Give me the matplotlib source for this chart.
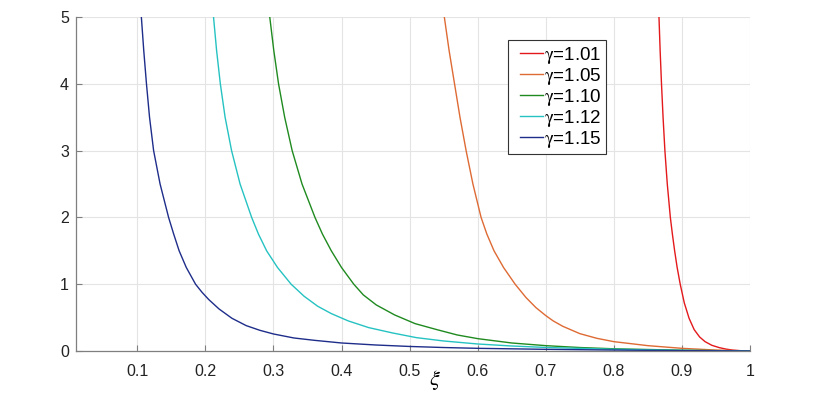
import matplotlib
matplotlib.use('Agg')
import matplotlib.pyplot as plt
from matplotlib.legend_handler import HandlerLine2D
from matplotlib.lines import Line2D

plt.rcParams['font.family'] = ['Liberation Sans', 'DejaVu Sans']
plt.rcParams['mathtext.fontset'] = 'stix'

# values (xi, f)
xi_101 = [0.8663, 0.868, 0.870, 0.8723, 0.875, 0.8785, 0.883, 0.886, 0.8893, 0.893, 0.8975,
          0.9035, 0.9105, 0.918, 0.926, 0.934, 0.944, 0.955, 0.965, 0.975, 0.987, 1.0]
f_101 = [5.0, 4.5, 4.0, 3.5, 3.0, 2.5, 2.0, 1.75, 1.5, 1.25, 1.0,
         0.72, 0.49, 0.32, 0.21, 0.14, 0.085, 0.05, 0.028, 0.013, 0.004, 0.0]

xi_105 = [0.551, 0.558, 0.566, 0.574, 0.583, 0.593, 0.605, 0.6135, 0.624, 0.638, 0.655,
          0.671, 0.6855, 0.70, 0.711, 0.725, 0.75, 0.775, 0.80, 0.85, 0.90, 0.95, 1.0]
f_105 = [5.0, 4.5, 4.0, 3.5, 3.0, 2.5, 2.0, 1.75, 1.5, 1.25, 1.0,
         0.80, 0.65, 0.53, 0.45, 0.37, 0.26, 0.19, 0.14, 0.08, 0.04, 0.014, 0.0]

xi_110 = [0.2946, 0.3005, 0.3075, 0.3165, 0.3275, 0.342, 0.361, 0.372, 0.385, 0.40, 0.418,
          0.432, 0.451, 0.478, 0.508, 0.54, 0.57, 0.60, 0.65, 0.70, 0.75, 0.80, 0.90, 1.0]
f_110 = [5.0, 4.5, 4.0, 3.5, 3.0, 2.5, 2.0, 1.75, 1.5, 1.25, 1.0,
         0.84, 0.69, 0.54, 0.41, 0.32, 0.24, 0.185, 0.12, 0.08, 0.052, 0.033, 0.012, 0.0]

xi_112 = [0.212, 0.2165, 0.222, 0.229, 0.2385, 0.251, 0.268, 0.278, 0.290, 0.306, 0.326,
          0.345, 0.365, 0.385, 0.41, 0.44, 0.475, 0.51, 0.55, 0.60, 0.65, 0.70, 0.80, 0.90, 1.0]
f_112 = [5.0, 4.5, 4.0, 3.5, 3.0, 2.5, 2.0, 1.75, 1.5, 1.25, 1.0,
         0.82, 0.67, 0.56, 0.45, 0.35, 0.27, 0.20, 0.15, 0.105, 0.075, 0.053, 0.026, 0.009, 0.0]

xi_115 = [0.106, 0.1095, 0.1135, 0.118, 0.124, 0.1335, 0.146, 0.1535, 0.1615, 0.172, 0.1856,
          0.195, 0.205, 0.22, 0.239, 0.26, 0.28, 0.30, 0.33, 0.36, 0.40, 0.45, 0.50, 0.55,
          0.60, 0.70, 0.80, 0.90, 1.0]
f_115 = [5.0, 4.5, 4.0, 3.5, 3.0, 2.5, 2.0, 1.75, 1.5, 1.25, 1.0,
         0.88, 0.77, 0.63, 0.49, 0.38, 0.31, 0.255, 0.195, 0.16, 0.12, 0.09, 0.068, 0.052,
         0.04, 0.025, 0.014, 0.006, 0.0]

series = [
    (xi_101, f_101, '#e3191c', r'$\mathrm{\gamma}$=1.01'),
    (xi_105, f_105, '#de6a34', r'$\mathrm{\gamma}$=1.05'),
    (xi_110, f_110, '#1f8a1f', r'$\mathrm{\gamma}$=1.10'),
    (xi_112, f_112, '#26c2c2', r'$\mathrm{\gamma}$=1.12'),
    (xi_115, f_115, '#1e2d8a', r'$\mathrm{\gamma}$=1.15'),
]

fig = plt.figure(figsize=(8.3, 3.95), dpi=100)
ax = fig.add_axes([76 / 830, 44 / 395, 674 / 830, 334 / 395])

for x, y, c, lab in series:
    ax.plot(x, y, color=c, lw=1.0, label=lab)

ax.set_xlim(0.01, 1)
ax.set_ylim(0, 5)
ax.set_xticks([0.1, 0.2, 0.3, 0.4, 0.5, 0.6, 0.7, 0.8, 0.9, 1.0])
ax.set_xticklabels(['0.1', '0.2', '0.3', '0.4', '0.5', '0.6', '0.7', '0.8', '0.9', '1'])
ax.set_yticks([0, 1, 2, 3, 4, 5])

ax.grid(True, color='#e4e4e4', lw=0.8)
ax.set_axisbelow(True)
for s in ['top', 'right']:
    ax.spines[s].set_visible(False)
for s in ['left', 'bottom']:
    ax.spines[s].set_color('#7f7f7f')
    ax.spines[s].set_linewidth(0.9)
ax.tick_params(direction='in', length=4, width=0.8, color='#7f7f7f',
               labelsize=11.5, labelcolor='#222222')
ax.tick_params(axis='x', pad=9)
ax.tick_params(axis='y', pad=5)

ax.set_xlabel(r'$\xi$', fontsize=16)
ax.xaxis.set_label_coords(0.532, -0.05)

leg = ax.legend(loc='upper left', bbox_to_anchor=(0.641, 0.93), fontsize=13.5,
                handlelength=1.62, handletextpad=0.1, labelspacing=0.0,
                borderpad=0.22, borderaxespad=0, fancybox=False, framealpha=1,
                handler_map={Line2D: HandlerLine2D(xpad=0.4)})
leg.get_frame().set_edgecolor('#333333')
leg.get_frame().set_linewidth(0.8)

fig.savefig('out.png', dpi=100)
